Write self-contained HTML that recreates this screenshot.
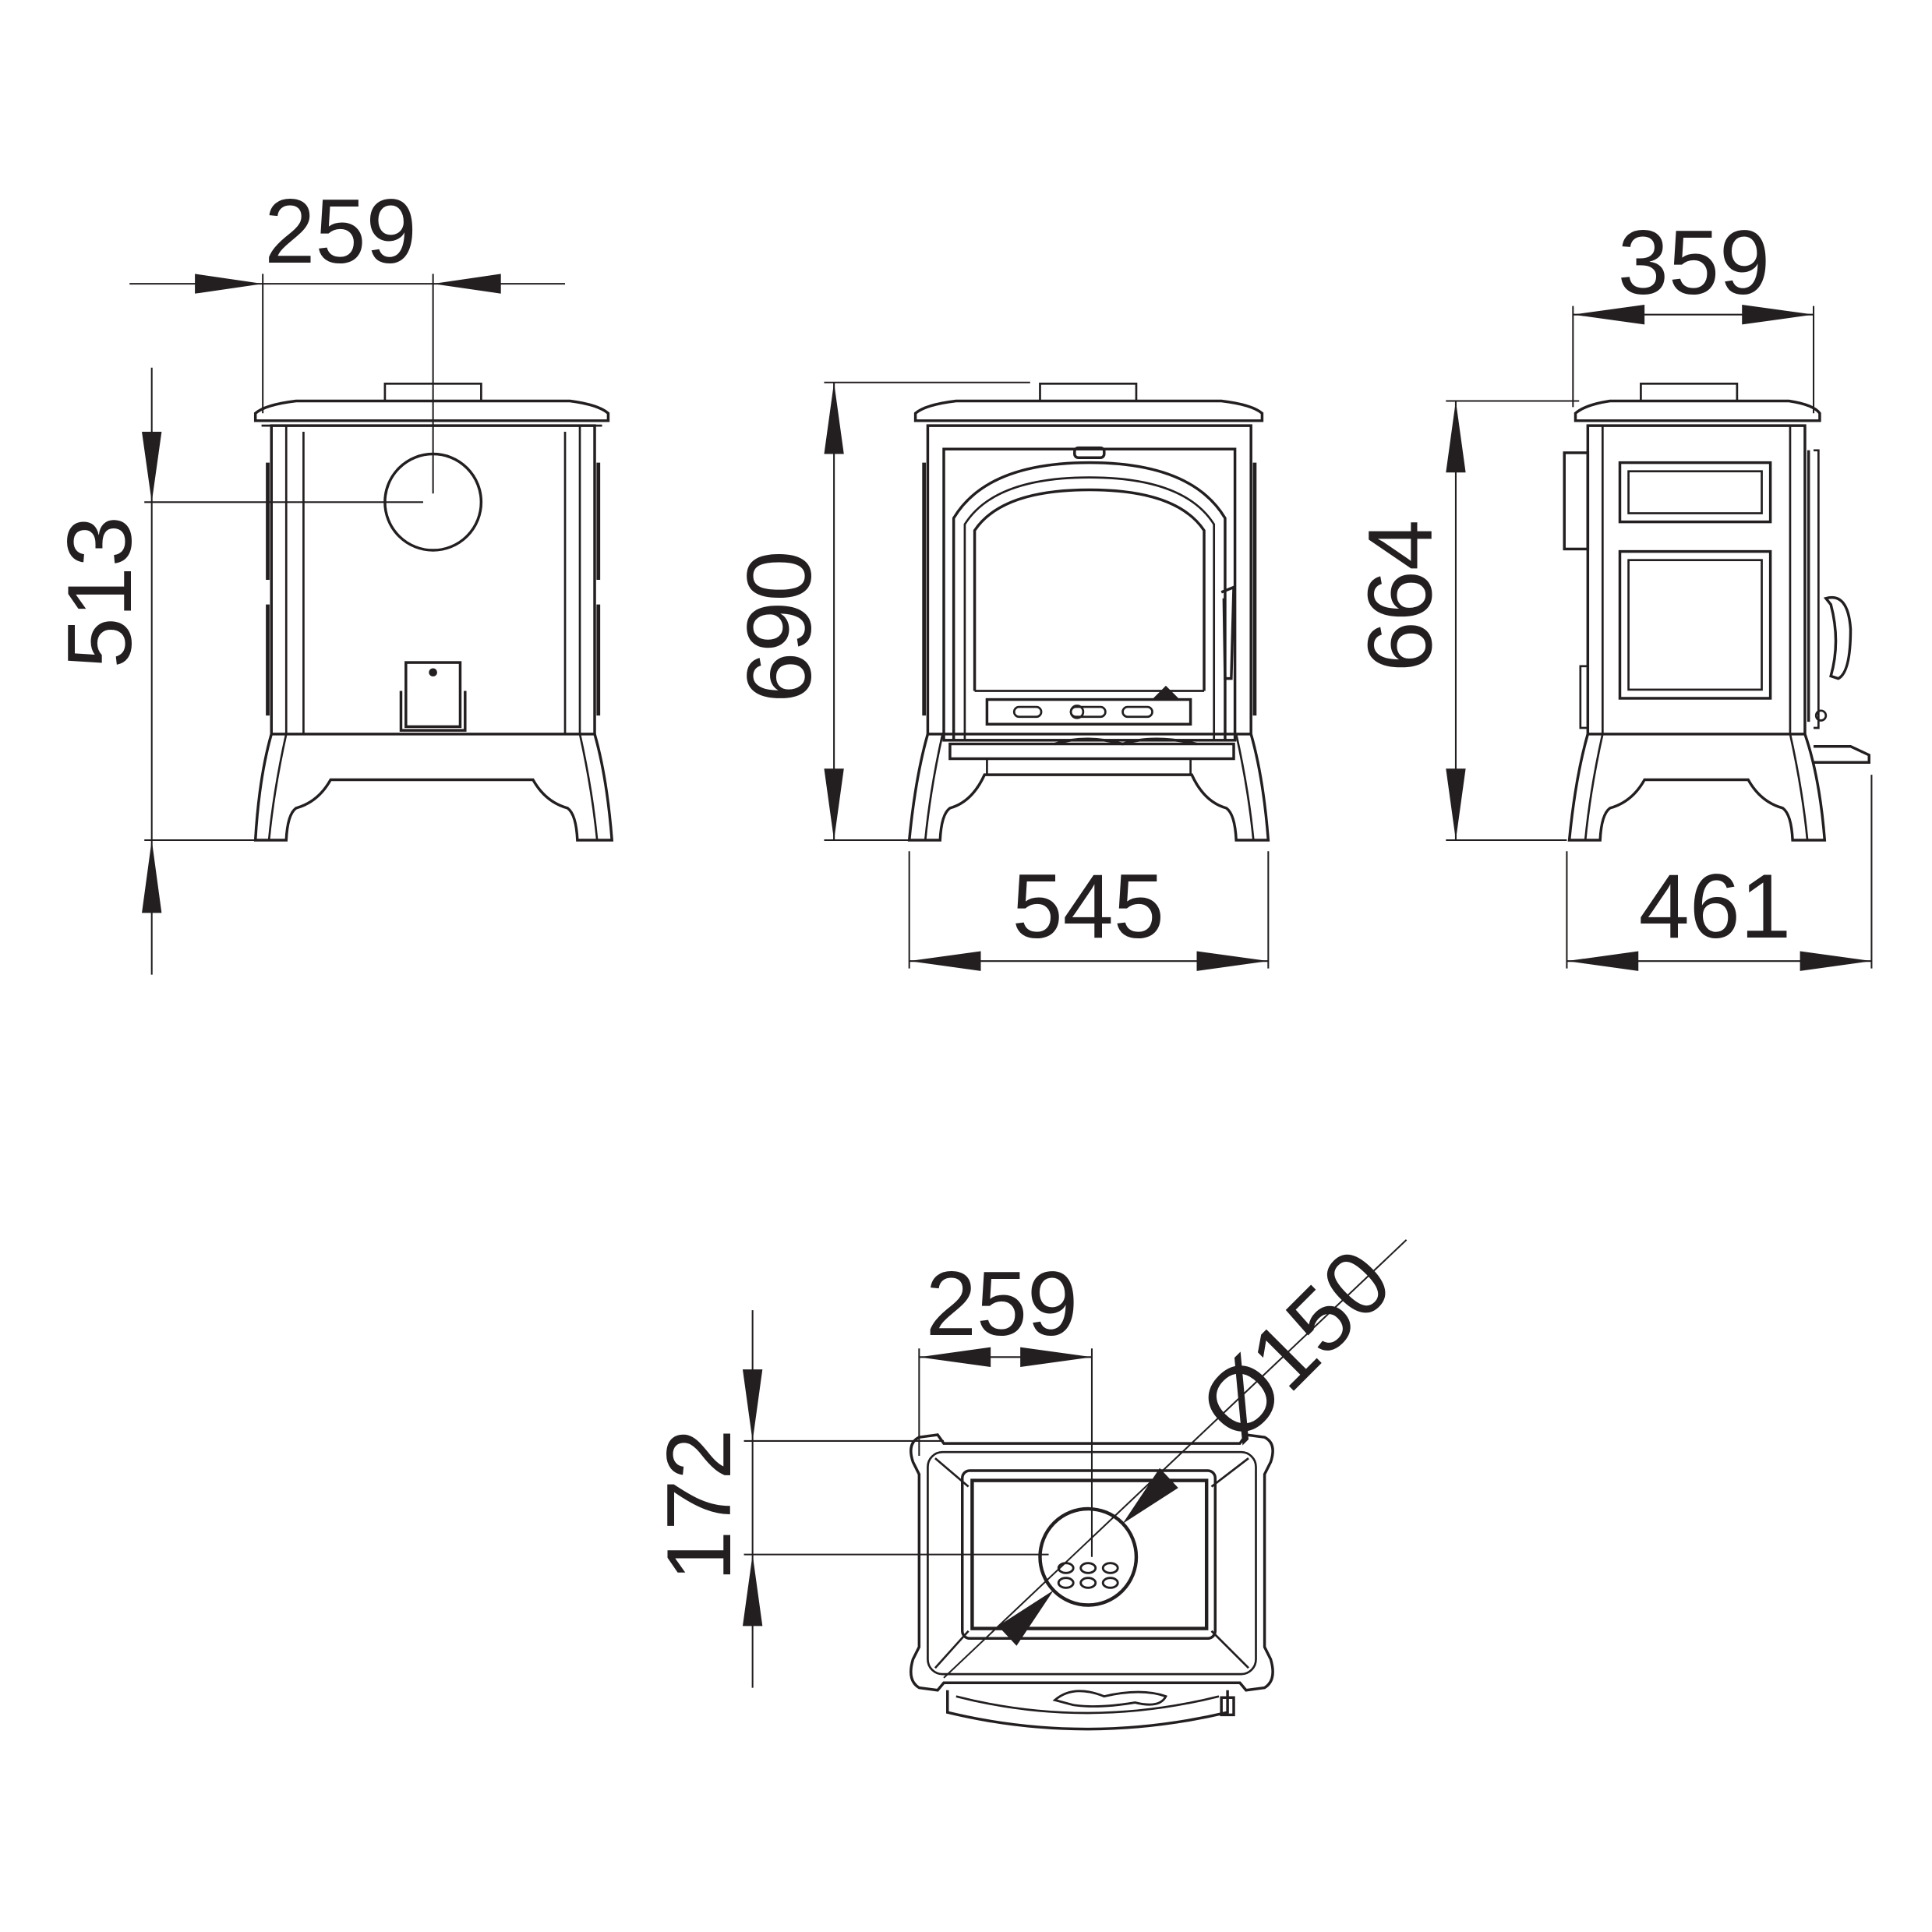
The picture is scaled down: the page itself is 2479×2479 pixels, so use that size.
<!DOCTYPE html>
<html><head><meta charset="utf-8"><style>
html,body{margin:0;padding:0;background:#fff}
svg{display:block}
text{font-family:"Liberation Sans",Arial,sans-serif;fill:#231f20}
</style></head><body>
<svg width="2479" height="2479" viewBox="0 0 1566 1566" xmlns="http://www.w3.org/2000/svg">
<g stroke="#231f20" fill="none" stroke-width="1.3">
<line x1="105" y1="230" x2="458" y2="230"/>
<line x1="213" y1="222" x2="213" y2="335"/>
<line x1="351" y1="222" x2="351" y2="400"/>
<line x1="123" y1="298" x2="123" y2="790"/>
<line x1="117" y1="407" x2="343" y2="407"/>
<line x1="117" y1="681" x2="210" y2="681"/>
<line x1="676" y1="310" x2="676" y2="681"/>
<line x1="668" y1="310" x2="835" y2="310"/>
<line x1="668" y1="681" x2="740" y2="681"/>
<line x1="737" y1="690" x2="737" y2="785"/>
<line x1="1028" y1="690" x2="1028" y2="785"/>
<line x1="737" y1="779" x2="1028" y2="779"/>
<line x1="1275" y1="255" x2="1470" y2="255"/>
<line x1="1275" y1="248" x2="1275" y2="330"/>
<line x1="1470" y1="248" x2="1470" y2="335"/>
<line x1="1180" y1="325" x2="1180" y2="681"/>
<line x1="1172" y1="325" x2="1280" y2="325"/>
<line x1="1172" y1="681" x2="1270" y2="681"/>
<line x1="1270" y1="690" x2="1270" y2="785"/>
<line x1="1517" y1="628" x2="1517" y2="785"/>
<line x1="1270" y1="779" x2="1517" y2="779"/>
<line x1="745" y1="1100" x2="885" y2="1100"/>
<line x1="745" y1="1093" x2="745" y2="1180"/>
<line x1="885" y1="1093" x2="885" y2="1262"/>
<line x1="610" y1="1062" x2="610" y2="1368"/>
<line x1="603" y1="1168" x2="765" y2="1168"/>
<line x1="603" y1="1260" x2="850" y2="1260"/>
<line x1="1140" y1="1005" x2="765" y2="1360"/>
</g>
<g stroke="#231f20" fill="none" stroke-width="1.7">
<!-- LEFT VIEW -->
<rect x="312" y="311" width="78" height="14"/>
<path d="M207 335 Q215 328 240 325 L462 325 Q485 328 493 335 L493 341 L207 341 Z" stroke-width="2.2"/>
<line x1="212" y1="345" x2="488" y2="345"/>
<rect x="220" y="345" width="262" height="250" stroke-width="2.2"/>
<line x1="232" y1="345" x2="232" y2="595"/>
<line x1="246" y1="350" x2="246" y2="595"/>
<line x1="458" y1="350" x2="458" y2="595"/>
<line x1="470" y1="345" x2="470" y2="595"/>
<line x1="217" y1="375" x2="217" y2="470" stroke-width="3"/>
<line x1="217" y1="490" x2="217" y2="580" stroke-width="3"/>
<line x1="485" y1="375" x2="485" y2="470" stroke-width="3"/>
<line x1="485" y1="490" x2="485" y2="580" stroke-width="3"/>
<circle cx="351" cy="407" r="39" stroke-width="2.2"/>
<rect x="329" y="537" width="44" height="52" stroke-width="2.2"/>
<path d="M325 560 L325 592 L377 592 L377 560" stroke-width="2.2"/>
<circle cx="351" cy="545" r="2.5" fill="#231f20"/>
<path d="M220 595 Q210 630 207 681 L232 681 Q233 660 240 655 Q258 650 268 632 L432 632 Q442 650 460 655 Q467 660 468 681 L496 681 Q492 630 482 595" stroke-width="2.2"/>
<path d="M232 595 Q222 640 218 681 M470 595 Q480 640 484 681"/>
<!-- MIDDLE VIEW -->
<rect x="843" y="311" width="78" height="14"/>
<path d="M742 335 Q750 328 775 325 L990 325 Q1015 328 1023 335 L1023 341 L742 341 Z" stroke-width="2.2"/>
<rect x="752" y="345" width="262" height="250" stroke-width="2.2"/>
<rect x="765" y="364" width="236" height="236" stroke-width="2.2"/>
<rect x="871" y="363" width="24" height="8" rx="3" stroke-width="2.2"/>
<path d="M773 600 L773 420 Q800 375 883 375 Q966 375 993 420 L993 600" stroke-width="2.2"/>
<path d="M782 600 L782 425 Q806 387 883 387 Q960 387 984 425 L984 600"/>
<path d="M790 560 L790 430 Q812 397 883 397 Q954 397 976 430 L976 560" stroke-width="2.2"/>
<line x1="790" y1="560" x2="976" y2="560"/>
<rect x="800" y="567" width="165" height="20" stroke-width="2.2"/>
<rect x="822" y="573" width="22" height="8" rx="4"/>
<rect x="868" y="573" width="28" height="8" rx="4"/>
<rect x="910" y="573" width="24" height="8" rx="4"/>
<circle cx="873" cy="577" r="5"/>
<path d="M935 567 L945 557 L955 567 Z" fill="#231f20"/>
<path d="M990 480 L1000 476 L998 550 L993 550 L992 485" stroke-width="2.2"/>
<line x1="749" y1="375" x2="749" y2="580" stroke-width="3"/>
<line x1="1017" y1="375" x2="1017" y2="580" stroke-width="3"/>
<path d="M770 603 L1000 603 L1000 615 L770 615 Z" stroke-width="2.2"/>
<path d="M855 603 Q880 595 910 603 Q935 595 970 603" stroke-width="2.2"/>
<line x1="800" y1="615" x2="800" y2="628"/>
<line x1="965" y1="615" x2="965" y2="628"/>
<path d="M752 595 Q742 630 737 681 L762 681 Q763 660 770 655 Q788 650 798 628 L966 628 Q976 650 994 655 Q1001 660 1002 681 L1028 681 Q1024 630 1014 595" stroke-width="2.2"/>
<path d="M764 595 Q754 640 750 681 M1002 595 Q1012 640 1016 681"/>
<!-- RIGHT VIEW -->
<rect x="1330" y="311" width="78" height="14"/>
<path d="M1277 335 Q1285 328 1305 325 L1450 325 Q1470 328 1475 335 L1475 341 L1277 341 Z" stroke-width="2.2"/>
<rect x="1287" y="345" width="176" height="250" stroke-width="2.2"/>
<line x1="1299" y1="345" x2="1299" y2="595"/>
<line x1="1451" y1="345" x2="1451" y2="595"/>
<rect x="1313" y="375" width="122" height="48" stroke-width="2.2"/>
<rect x="1320" y="382" width="108" height="34"/>
<rect x="1313" y="447" width="122" height="119" stroke-width="2.2"/>
<rect x="1320" y="454" width="108" height="105"/>
<rect x="1268" y="367" width="19" height="78" stroke-width="2.2"/>
<rect x="1281" y="540" width="6" height="50"/>
<line x1="1466" y1="365" x2="1466" y2="585" stroke-width="2.2"/>
<path d="M1470 365 L1474 365 L1474 590 L1470 590"/>
<path d="M1480 485 Q1498 480 1500 510 Q1500 545 1490 550 L1484 548 Q1492 520 1484 490 Z" stroke-width="2.2"/>
<circle cx="1476" cy="580" r="4"/>
<path d="M1470 605 L1500 605 L1515 612 L1515 618 L1470 618" stroke-width="2.2"/>
<path d="M1287 595 Q1277 630 1272 681 L1297 681 Q1298 660 1305 655 Q1323 650 1333 632 L1417 632 Q1427 650 1445 655 Q1452 660 1453 681 L1479 681 Q1475 630 1463 595" stroke-width="2.2"/>
<path d="M1299 595 Q1289 640 1285 681 M1451 595 Q1461 640 1465 681"/>
<!-- BOTTOM VIEW -->
<path d="M745 1165 L760 1163 L765 1170 L1005 1170 L1010 1163 L1025 1165 Q1035 1170 1030 1185 L1025 1195 L1025 1335 L1030 1345 Q1035 1362 1025 1368 L1010 1370 L1005 1364 L765 1364 L760 1370 L745 1368 Q735 1362 740 1345 L745 1335 L745 1195 L740 1185 Q735 1170 745 1165 Z" stroke-width="2.2"/>
<rect x="752" y="1177" width="266" height="180" rx="12"/>
<rect x="780" y="1192" width="205" height="136" rx="6" stroke-width="2.2"/>
<rect x="788" y="1200" width="190" height="120" stroke-width="2.8"/>
<line x1="758" y1="1182" x2="785" y2="1205"/>
<line x1="1012" y1="1182" x2="982" y2="1205"/>
<line x1="758" y1="1352" x2="785" y2="1322"/>
<line x1="1012" y1="1352" x2="982" y2="1322"/>
<circle cx="882" cy="1262" r="39" stroke-width="2.8"/>
<g stroke-width="1.8">
<ellipse cx="864" cy="1271" rx="6" ry="4"/><ellipse cx="882" cy="1271" rx="6" ry="4"/><ellipse cx="900" cy="1271" rx="6" ry="4"/>
<ellipse cx="864" cy="1283" rx="6" ry="4"/><ellipse cx="882" cy="1283" rx="6" ry="4"/><ellipse cx="900" cy="1283" rx="6" ry="4"/>
</g>
<path d="M768 1370 L768 1388 Q880 1415 995 1388 L995 1370" stroke-width="2.2"/>
<path d="M775 1375 Q880 1402 988 1375"/>
<path d="M855 1378 Q870 1365 895 1375 Q925 1368 945 1375 Q940 1385 920 1380 Q890 1385 870 1382 Z" stroke-width="1.8"/>
<rect x="990" y="1376" width="10" height="14" stroke-width="2.2"/>
</g>
<g fill="#231f20">
<polygon points="213,230 158,222 158,238"/>
<polygon points="351,230 406,222 406,238"/>
<polygon points="123,407 115,350 131,350"/>
<polygon points="123,681 115,740 131,740"/>
<polygon points="676,310 668,368 684,368"/>
<polygon points="676,681 668,623 684,623"/>
<polygon points="737,779 795,771 795,787"/>
<polygon points="1028,779 970,771 970,787"/>
<polygon points="1275,255 1333,247 1333,263"/>
<polygon points="1470,255 1412,247 1412,263"/>
<polygon points="1180,325 1172,383 1188,383"/>
<polygon points="1180,681 1172,623 1188,623"/>
<polygon points="1270,779 1328,771 1328,787"/>
<polygon points="1517,779 1459,771 1459,787"/>
<polygon points="745,1100 803,1092 803,1108"/>
<polygon points="885,1100 827,1092 827,1108"/>
<polygon points="610,1168 602,1110 618,1110"/>
<polygon points="610,1260 602,1318 618,1318"/>
<polygon points="910,1235 940,1190 955,1206"/>
<polygon points="854,1289 824,1334 809,1318"/>
</g>
<g font-size="74">
<text x="276" y="213" text-anchor="middle">259</text>
<text x="882" y="760" text-anchor="middle">545</text>
<text x="1373" y="238" text-anchor="middle">359</text>
<text x="1390" y="760" text-anchor="middle">461</text>
<text x="812" y="1082" text-anchor="middle">259</text>
<text transform="translate(106,480) rotate(-90)" text-anchor="middle">513</text>
<text transform="translate(657,508) rotate(-90)" text-anchor="middle">690</text>
<text transform="translate(1160,483) rotate(-90)" text-anchor="middle">664</text>
<text transform="translate(592,1220) rotate(-90)" text-anchor="middle">172</text>
<text transform="translate(1068,1108) rotate(-45)" text-anchor="middle">Ø150</text>
</g>
</svg>
</body></html>
